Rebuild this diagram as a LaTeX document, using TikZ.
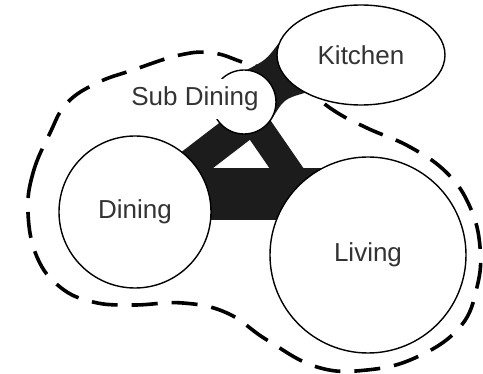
\documentclass[tikz,border=0pt]{standalone}
\usepackage{fontspec}
\setmainfont{Liberation Sans}
\usetikzlibrary{shapes.geometric, backgrounds}
\definecolor{inkgray}{HTML}{333333}
\definecolor{bandink}{HTML}{1C1C1C}

\begin{document}
\begin{tikzpicture}[x=0.5pt, y=-0.5pt,
  room/.style={draw=black, line width=0.7pt, fill=white, circle, inner sep=0pt,
    text=inkgray, font=\fontsize{13}{15}\selectfont},
  band/.style={draw=bandink, line width=#1, shorten <=-10pt, shorten >=-10pt},
  band/.default=20pt,
  zone/.style={draw=black, line width=1.8pt, dash pattern=on 13pt off 7pt}]

\useasboundingbox (0,0) rectangle (483,374);

% Rooms
\node[room, minimum size=76pt] (dining) at (135,212) {Dining};
\node[room, minimum size=98pt] (living) at (368,255) {Living};
\node[room, ellipse, minimum width=84pt, minimum height=50pt] (kitchen) at (361,55) {Kitchen};
\node[room, minimum size=32pt] (sub) at (244,102) {};
\node[fill=white, text=inkgray, font=\fontsize{13}{15}\selectfont,
      inner xsep=1pt, inner ysep=4pt] (sublabel) at (195,99) {Sub Dining};

\begin{scope}[on background layer]
% Zone boundary
\draw[zone] plot[smooth cycle, tension=0.7] coordinates {
  (28,213) (33,173) (50,133) (67,103) (97,83) (133,70) (180,55) (213,53)
  (245,63) (290,78) (333,110) (367,128) (410,147) (447,173) (470,207)
  (480,247) (477,287) (460,327) (417,357) (367,370) (317,367) (267,340)
  (227,313) (183,303) (133,305) (93,302) (60,287) (37,257)};

% Links
\fill[bandink] (sub.center) -- (sub.84) .. controls (266,60) .. (kitchen.172)
  -- (kitchen.center) -- (kitchen.214) .. controls (284,99) .. (sub.326) -- cycle;
\draw[band=16pt] (dining.40) -- (sub.250);
\draw[band=14pt] (sub.300) -- (living.135);
\coordinate (dl) at ([yshift=9pt]dining.center);
\draw[band=26pt] (dl) -- (dl -| living.center);
\end{scope}

\end{tikzpicture}
\end{document}
